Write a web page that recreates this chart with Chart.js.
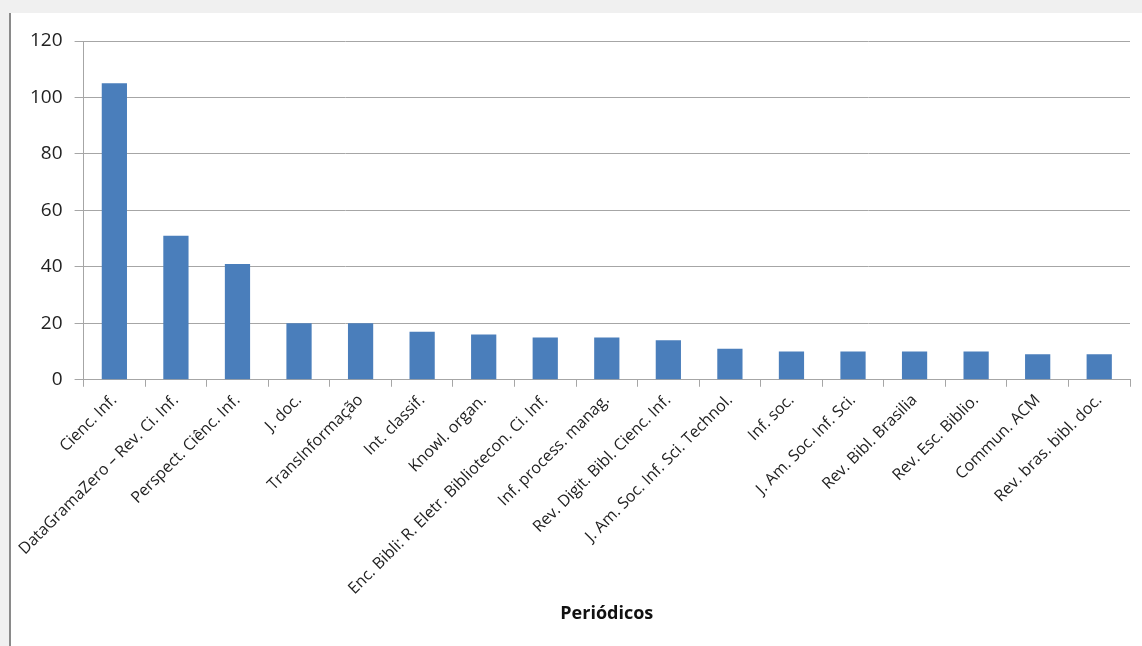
<!DOCTYPE html>
<html>
<head>
<meta charset="utf-8">
<script src="https://cdn.jsdelivr.net/npm/chart.js@4"></script>
<style>
  html, body { margin: 0; padding: 0; background: #f0f0f0; width: 1142px; height: 646px; overflow: hidden; }
  #frame { position: absolute; left: 11px; top: 13px; width: 1131px; height: 633px; background: #fff; }
  #edge { position: absolute; left: 9px; top: 13px; width: 2px; height: 633px; background: #8a8a8a; }
  canvas { display: block; }
</style>
</head>
<body>
<div id="edge"></div>
<div id="frame"><canvas id="myChart" width="1131" height="633"></canvas></div>
<script>
// periódicos e número de artigos
var periodicos = [
  'Cienc. Inf.',
  'DataGramaZero – Rev. Ci. Inf.',
  'Perspect. Ciênc. Inf.',
  'J. doc.',
  'TransInformação',
  'Int. classif.',
  'Knowl. organ.',
  'Enc. Bibli: R. Eletr. Bibliotecon. Ci. Inf.',
  'Inf. process. manag.',
  'Rev. Digit. Bibl. Cienc. Inf.',
  'J. Am. Soc. Inf. Sci. Technol.',
  'Inf. soc.',
  'J. Am. Soc. Inf. Sci.',
  'Rev. Bibl. Brasilia',
  'Rev. Esc. Biblio.',
  'Commun. ACM',
  'Rev. bras. bibl. doc.'
];
var artigos = [105, 51, 41, 20, 20, 17, 16, 15, 15, 14, 11, 10, 10, 10, 10, 9, 9];
var yTicks = [0, 20, 40, 60, 80, 100, 120];

var gridColor = '#a6a6a6';
var fontFamily = '"Open Sans", sans-serif';

var ctx = document.getElementById('myChart').getContext('2d');
var myChart = new Chart(ctx, {
  type: 'bar',
  data: {
    labels: periodicos,
    datasets: [{
      label: 'Artigos',
      data: artigos,
      backgroundColor: '#4a7ebb',
      borderWidth: 0,
      categoryPercentage: 1,
      barPercentage: 0.41
    }]
  },
  options: {
    responsive: false,
    animation: false,
    layout: { padding: { top: 28, right: 12, left: 7, bottom: 17 } },
    plugins: {
      legend: { display: false },
      tooltip: { enabled: false }
    },
    scales: {
      y: {
        min: yTicks[0],
        max: yTicks[yTicks.length - 1],
        afterBuildTicks: function (axis) {
          axis.ticks = yTicks.map(function (v) { return { value: v }; });
        },
        ticks: { color: '#222', padding: 12, font: { family: fontFamily, size: 19 } },
        grid: { color: gridColor, tickLength: 9 },
        border: { color: gridColor }
      },
      x: {
        ticks: {
          color: '#222', maxRotation: 45, minRotation: 45, autoSkip: false,
          padding: 4, font: { family: fontFamily, size: 16 }
        },
        grid: { drawOnChartArea: false, color: gridColor, tickLength: 7 },
        border: { color: gridColor },
        title: {
          display: true, text: 'Periódicos', color: '#111',
          font: { family: fontFamily, size: 18, weight: 'bold' },
          padding: { top: 1 }
        }
      }
    }
  }
});
</script>
</body>
</html>
